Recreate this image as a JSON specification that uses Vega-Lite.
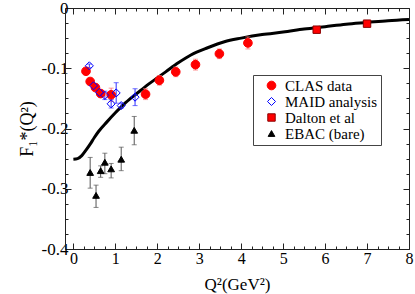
{
  "$schema": "https://vega.github.io/schema/vega-lite/v6.json",
  "width": 344,
  "height": 241,
  "autosize": "none",
  "padding": {"left": 65, "top": 8, "right": 6, "bottom": 45},
  "background": "white",
  "config": {
    "view": {"stroke": null},
    "font": "Liberation Serif",
    "legend": {"labelFont": "Liberation Serif", "labelFontSize": 15, "labelColor": "black",
      "strokeColor": "#444", "fillColor": "white", "padding": 3, "rowPadding": 0,
      "labelOffset": 6, "symbolOffset": 8, "symbolStrokeWidth": 1,
      "orient": "none", "legendX": 188, "legendY": 67, "title": null}
  },
  "datasets": {
    "curve": [
      {"q2": 0.0, "f1": -0.251}, {"q2": 0.1, "f1": -0.250}, {"q2": 0.2, "f1": -0.245},
      {"q2": 0.3, "f1": -0.236}, {"q2": 0.4, "f1": -0.226}, {"q2": 0.5, "f1": -0.215},
      {"q2": 0.6, "f1": -0.205}, {"q2": 0.8, "f1": -0.189}, {"q2": 1.0, "f1": -0.174},
      {"q2": 1.2, "f1": -0.160}, {"q2": 1.4, "f1": -0.148}, {"q2": 1.6, "f1": -0.137},
      {"q2": 1.8, "f1": -0.126}, {"q2": 2.0, "f1": -0.116}, {"q2": 2.2, "f1": -0.106},
      {"q2": 2.5, "f1": -0.091}, {"q2": 2.8, "f1": -0.078}, {"q2": 3.2, "f1": -0.066},
      {"q2": 3.6, "f1": -0.056}, {"q2": 4.0, "f1": -0.050}, {"q2": 4.5, "f1": -0.044},
      {"q2": 5.0, "f1": -0.040}, {"q2": 5.5, "f1": -0.035}, {"q2": 6.0, "f1": -0.031},
      {"q2": 6.5, "f1": -0.027}, {"q2": 7.0, "f1": -0.024}, {"q2": 7.5, "f1": -0.021},
      {"q2": 8.0, "f1": -0.019}
    ],
    "pts": [
      {"series": "CLAS data", "q2": 0.30, "f1": -0.105, "lo": -0.109, "hi": -0.101},
      {"series": "CLAS data", "q2": 0.40, "f1": -0.122, "lo": -0.127, "hi": -0.117},
      {"series": "CLAS data", "q2": 0.525, "f1": -0.132, "lo": -0.137, "hi": -0.127},
      {"series": "CLAS data", "q2": 0.65, "f1": -0.142, "lo": -0.147, "hi": -0.137},
      {"series": "CLAS data", "q2": 0.90, "f1": -0.144, "lo": -0.155, "hi": -0.133},
      {"series": "CLAS data", "q2": 1.72, "f1": -0.143, "lo": -0.152, "hi": -0.134},
      {"series": "CLAS data", "q2": 2.05, "f1": -0.120, "lo": -0.128, "hi": -0.112},
      {"series": "CLAS data", "q2": 2.44, "f1": -0.106, "lo": -0.114, "hi": -0.098},
      {"series": "CLAS data", "q2": 2.91, "f1": -0.094, "lo": -0.103, "hi": -0.085},
      {"series": "CLAS data", "q2": 3.48, "f1": -0.076, "lo": -0.084, "hi": -0.068},
      {"series": "CLAS data", "q2": 4.16, "f1": -0.058, "lo": -0.068, "hi": -0.048},
      {"series": "MAID analysis", "q2": 0.38, "f1": -0.096, "lo": -0.099, "hi": -0.093},
      {"series": "MAID analysis", "q2": 0.48, "f1": -0.129, "lo": -0.133, "hi": -0.125},
      {"series": "MAID analysis", "q2": 0.62, "f1": -0.140, "lo": -0.144, "hi": -0.136},
      {"series": "MAID analysis", "q2": 0.75, "f1": -0.145, "lo": -0.152, "hi": -0.138},
      {"series": "MAID analysis", "q2": 0.90, "f1": -0.159, "lo": -0.166, "hi": -0.152},
      {"series": "MAID analysis", "q2": 1.02, "f1": -0.141, "lo": -0.158, "hi": -0.124},
      {"series": "MAID analysis", "q2": 1.14, "f1": -0.162, "lo": -0.166, "hi": -0.158},
      {"series": "MAID analysis", "q2": 1.47, "f1": -0.148, "lo": -0.162, "hi": -0.134},
      {"series": "Dalton et al", "q2": 5.8, "f1": -0.036, "lo": -0.038, "hi": -0.034},
      {"series": "Dalton et al", "q2": 7.0, "f1": -0.026, "lo": -0.028, "hi": -0.024},
      {"series": "EBAC (bare)", "q2": 0.40, "f1": -0.273, "lo": -0.299, "hi": -0.248},
      {"series": "EBAC (bare)", "q2": 0.54, "f1": -0.311, "lo": -0.331, "hi": -0.294},
      {"series": "EBAC (bare)", "q2": 0.65, "f1": -0.270, "lo": -0.281, "hi": -0.262},
      {"series": "EBAC (bare)", "q2": 0.75, "f1": -0.256, "lo": -0.275, "hi": -0.241},
      {"series": "EBAC (bare)", "q2": 0.90, "f1": -0.267, "lo": -0.282, "hi": -0.258},
      {"series": "EBAC (bare)", "q2": 1.14, "f1": -0.251, "lo": -0.270, "hi": -0.231},
      {"series": "EBAC (bare)", "q2": 1.45, "f1": -0.203, "lo": -0.227, "hi": -0.180}
    ]
  },
  "layer": [
    {
      "data": {"name": "curve"},
      "mark": {"type": "line", "color": "black", "strokeWidth": 3, "interpolate": "monotone"},
      "encoding": {
        "x": {"field": "q2", "type": "quantitative",
          "scale": {"domain": [-0.2, 8], "nice": false, "zero": false},
          "axis": {"orient": "bottom", "grid": false,
            "values": [0,0.25,0.5,0.75,1,1.25,1.5,1.75,2,2.25,2.5,2.75,3,3.25,3.5,3.75,4,4.25,4.5,4.75,5,5.25,5.5,5.75,6,6.25,6.5,6.75,7,7.25,7.5,7.75,8],
            "tickSize": {"condition": {"test": "datum.value % 1 === 0", "value": -6}, "value": -3},
            "labelExpr": "datum.value % 1 === 0 ? '' + datum.value : ''",
            "labelOverlap": false, "labelFlush": false, "labelPadding": 7,
            "labelFont": "Liberation Serif", "labelFontSize": 16, "labelColor": "black",
            "domainColor": "#222", "tickColor": "#222",
            "title": "Q²(GeV²)", "titleFont": "Liberation Serif", "titleFontSize": 17,
            "titleFontWeight": "normal", "titleColor": "black", "titlePadding": 7}},
        "y": {"field": "f1", "type": "quantitative",
          "scale": {"domain": [-0.4, 0], "nice": false, "zero": false},
          "axis": {"orient": "left", "grid": false,
            "values": [0,-0.025,-0.05,-0.075,-0.1,-0.125,-0.15,-0.175,-0.2,-0.225,-0.25,-0.275,-0.3,-0.325,-0.35,-0.375,-0.4],
            "tickSize": {"condition": {"test": "abs(datum.value*10 - round(datum.value*10)) < 1e-6", "value": -6}, "value": -3},
            "labelExpr": "abs(datum.value*10 - round(datum.value*10)) < 1e-6 ? '' + (round(datum.value*10)/10) : ''",
            "labelOverlap": false, "labelFlush": false, "labelPadding": 3,
            "labelFont": "Liberation Serif", "labelFontSize": 17, "labelColor": "black",
            "domainColor": "#222", "tickColor": "#222",
            "title": "F₁*(Q²)", "titleFont": "Liberation Serif", "titleFontSize": 18,
            "titleFontWeight": "normal", "titleColor": "black", "titlePadding": 5}}
      }
    },
    {
      "data": {"name": "pts"},
      "transform": [{"filter": "datum.series === 'CLAS data'"}],
      "mark": {"type": "errorbar", "color": "#ff7070", "ticks": true},
      "encoding": {
        "x": {"field": "q2", "type": "quantitative", "axis": null},
        "y": {"field": "lo", "type": "quantitative", "axis": null},
        "y2": {"field": "hi"}
      }
    },
    {
      "data": {"name": "pts"},
      "transform": [{"filter": "datum.series === 'MAID analysis'"}],
      "mark": {"type": "errorbar", "color": "#3030ff", "ticks": true},
      "encoding": {
        "x": {"field": "q2", "type": "quantitative", "axis": null},
        "y": {"field": "lo", "type": "quantitative", "axis": null},
        "y2": {"field": "hi"}
      }
    },
    {
      "data": {"name": "pts"},
      "transform": [{"filter": "datum.series === 'EBAC (bare)'"}],
      "mark": {"type": "errorbar", "color": "#555555", "ticks": true},
      "encoding": {
        "x": {"field": "q2", "type": "quantitative", "axis": null},
        "y": {"field": "lo", "type": "quantitative", "axis": null},
        "y2": {"field": "hi"}
      }
    },
    {
      "data": {"name": "pts"},
      "mark": {"type": "point", "filled": true, "opacity": 1, "strokeWidth": 1},
      "encoding": {
        "x": {"field": "q2", "type": "quantitative",
          "scale": {"domain": [-0.2, 8], "nice": false, "zero": false},
          "axis": {"orient": "top", "grid": false, "title": null, "labels": false,
            "values": [0,0.25,0.5,0.75,1,1.25,1.5,1.75,2,2.25,2.5,2.75,3,3.25,3.5,3.75,4,4.25,4.5,4.75,5,5.25,5.5,5.75,6,6.25,6.5,6.75,7,7.25,7.5,7.75,8],
            "tickSize": {"condition": {"test": "datum.value % 1 === 0", "value": -6}, "value": -3},
            "domainColor": "#222", "tickColor": "#222"}},
        "y": {"field": "f1", "type": "quantitative",
          "scale": {"domain": [-0.4, 0], "nice": false, "zero": false},
          "axis": {"orient": "right", "grid": false, "title": null, "labels": false,
            "values": [0,-0.025,-0.05,-0.075,-0.1,-0.125,-0.15,-0.175,-0.2,-0.225,-0.25,-0.275,-0.3,-0.325,-0.35,-0.375,-0.4],
            "tickSize": {"condition": {"test": "abs(datum.value*10 - round(datum.value*10)) < 1e-6", "value": -6}, "value": -3},
            "domainColor": "#222", "tickColor": "#222"}},
        "shape": {"field": "series", "type": "nominal",
          "scale": {"domain": ["CLAS data", "MAID analysis", "Dalton et al", "EBAC (bare)"],
                    "range": ["circle", "diamond", "square", "triangle-up"]},
          "legend": {"orient": "none", "legendX": 188, "legendY": 67, "title": null, "labelFont": "Liberation Serif", "labelFontSize": 15}},
        "fill": {"field": "series", "type": "nominal",
          "scale": {"domain": ["CLAS data", "MAID analysis", "Dalton et al", "EBAC (bare)"],
                    "range": ["#ff0000", "transparent", "#ff0000", "#000000"]},
          "legend": {"orient": "none", "legendX": 188, "legendY": 67, "title": null, "labelFont": "Liberation Serif", "labelFontSize": 15}},
        "stroke": {"field": "series", "type": "nominal",
          "scale": {"domain": ["CLAS data", "MAID analysis", "Dalton et al", "EBAC (bare)"],
                    "range": ["#ff0000", "#0000ff", "#8b0000", "#000000"]},
          "legend": {"orient": "none", "legendX": 188, "legendY": 67, "title": null, "labelFont": "Liberation Serif", "labelFontSize": 15}},
        "size": {"field": "series", "type": "nominal",
          "scale": {"domain": ["CLAS data", "MAID analysis", "Dalton et al", "EBAC (bare)"],
                    "range": [75, 45, 45, 60]},
          "legend": {"orient": "none", "legendX": 188, "legendY": 67, "title": null, "labelFont": "Liberation Serif", "labelFontSize": 15}}
      }
    }
  ],
  "resolve": {"axis": {"x": "independent", "y": "independent"}}
}
